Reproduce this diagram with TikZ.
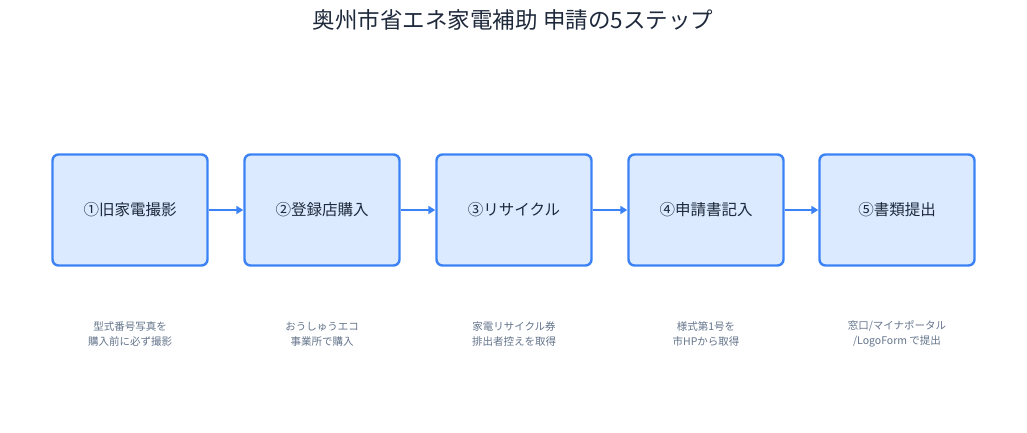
\documentclass[tikz,border=0pt]{standalone}
\usepackage{fontspec}
\setmainfont{Noto Sans CJK JP}
\usetikzlibrary{arrows.meta}
\definecolor{bfill}{HTML}{DBEAFE}
\definecolor{bline}{HTML}{3B82F6}
\definecolor{tdark}{HTML}{1E293B}
\definecolor{tgray}{HTML}{64748B}
\begin{document}
\begin{tikzpicture}[x=1pt,y=-1pt,
  stepbox/.style={draw=bline,fill=bfill,line width=2.4pt,rounded corners=6pt,minimum width=155pt,minimum height=111pt,inner sep=0pt,text=tdark,font=\fontsize{15.5}{18}\selectfont},
  captxt/.style={text=tgray,font=\fontsize{10.5}{15}\selectfont,align=center},
  arr/.style={draw=bline,line width=2.4pt,-{Triangle[length=7pt,width=8pt]}}]
\useasboundingbox (0,0) rectangle (1027,432);
\node[text=tdark,font=\fontsize{22.5}{26}\selectfont] (title) at (513,20) {奥州市省エネ家電補助 申請の5ステップ};
\node[stepbox] (s1) at (130,210) {①旧家電撮影};
\node[stepbox] (s2) at (322,210) {②登録店購入};
\node[stepbox] (s3) at (514,210) {③リサイクル};
\node[stepbox] (s4) at (706,210) {④申請書記入};
\node[stepbox] (s5) at (897,210) {⑤書類提出};
\draw[arr] (s1) -- (s2);
\draw[arr] (s2) -- (s3);
\draw[arr] (s3) -- (s4);
\draw[arr] (s4) -- (s5);
\node[captxt] (c1) at (130,334) {型式番号写真を\\購入前に必ず撮影};
\node[captxt] (c2) at (322,334) {おうしゅうエコ\\事業所で購入};
\node[captxt] (c3) at (514,334) {家電リサイクル券\\排出者控えを取得};
\node[captxt] (c4) at (706,334) {様式第1号を\\市HPから取得};
\node[captxt] (c5) at (897,334) {窓口/マイナポータル\\/LogoForm で提出};
\end{tikzpicture}
\end{document}
